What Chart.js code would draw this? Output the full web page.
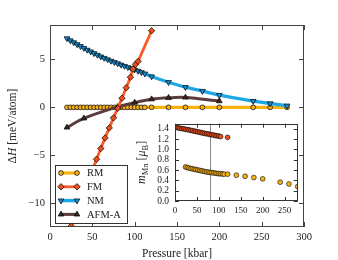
<!DOCTYPE html>
<html><head><meta charset="utf-8">
<script src="https://cdn.jsdelivr.net/npm/chart.js@4.4.1/dist/chart.umd.min.js"></script>
<style>
html,body{margin:0;padding:0;background:#fff;}
#wrap{position:relative;width:338px;height:260px;overflow:hidden;}
#main{position:absolute;left:0;top:0;width:338px;height:260px;}
#inset{position:absolute;left:120px;top:112px;width:185px;height:110px;}
</style></head><body>
<div id="wrap"><canvas id="main" width="338" height="260"></canvas><canvas id="inset" width="185" height="110"></canvas></div>
<script>
// ---------- data ----------
const SERIES_NAMES = ['RM', 'FM', 'NM', 'AFM-A'];

const RM_P  = [20,24,28,32,36,40,44,48,52,56,60,64,68,72,76,80,84,88,92,96,100,104,108,112,120,140,160,180,200,240,260,280];
const RM_DH = [0,0,0,0,0,0,0,0,0,0,0,0,0,0,0,0,0,0,0,0,0,0,0,0,0,0,0,0,0,0,0,0];

const FM_P  = [25,30,35,40,45,50,55,60,65,70,75,80,85,90,95,98,101,104,120];
const FM_DH = [-12.4,-11.3,-10.1,-8.95,-7.75,-6.6,-5.42,-4.3,-3.2,-2.15,-1.1,-0.1,0.95,2.05,3.15,4.0,4.5,4.8,8.0];

const NM_P  = [20,24,28,32,36,40,44,48,52,56,60,64,68,72,76,80,84,88,92,96,100,104,108,112,120,140,160,180,200,240,260,280];
const NM_DH = [7.2,6.98,6.78,6.58,6.38,6.19,6.0,5.82,5.64,5.47,5.3,5.15,5.0,4.85,4.71,4.58,4.44,4.31,4.18,4.06,3.94,3.8,3.66,3.52,3.22,2.62,2.1,1.7,1.28,0.65,0.4,0.17];

const AFM_P  = [20,40,80,100,120,140,160,200];
const AFM_DH = [-2.1,-1.15,0.05,0.5,0.85,1.0,1.03,0.65];

// inset: Mn magnetic moment
const MFM_P = [0,4,8,12,16,20,24,28,32,36,40,44,48,52,56,60,64,68,72,76,80,84,88,92,96,100,104,120];
const MFM   = [1.43,1.425,1.42,1.41,1.405,1.4,1.39,1.385,1.38,1.37,1.365,1.355,1.35,1.34,1.335,1.325,1.32,1.31,1.305,1.3,1.29,1.285,1.28,1.27,1.265,1.26,1.25,1.235];
const MRM_P = [24,28,32,36,40,44,48,52,56,60,64,68,72,76,80,84,88,92,96,100,104,108,112,120,140,160,180,200,240,260,280];
const MRM   = [0.66,0.65,0.64,0.63,0.625,0.615,0.61,0.6,0.595,0.585,0.58,0.57,0.565,0.56,0.555,0.55,0.545,0.54,0.535,0.53,0.53,0.525,0.52,0.52,0.5,0.48,0.455,0.43,0.365,0.33,0.28];
const TRANSITION_P = 80;

const X_TICKS = [0,50,100,150,200,250,300];
const Y_TICKS = [-10,-5,0,5];
const IX_TICKS = [0,50,100,150,200,250];
const IY_TICKS = [0,0.2,0.4,0.6,0.8,1.0,1.2,1.4];

// ---------- styles ----------
const FONT = "'Liberation Serif','Times New Roman',serif";
const STY = {
  'RM':    {line:'#f8b20c', fill:'#f7b219', ps:'circle',  r:2.4, lw:3.2, rot:0,   order:3},
  'FM':    {line:'#fa5a26', fill:'#ec4f1c', ps:'rectRot', r:3.2, lw:2.8, rot:0,   order:0},
  'NM':    {line:'#1ca8e8', fill:'#1a8ccc', ps:'triangle',r:3.3, lw:3.4, rot:180, order:2},
  'AFM-A': {line:'#5c3c3c', fill:'#3a2626', ps:'triangle',r:3.3, lw:3.0, rot:0,   order:1}
};
const TENSION = {'RM':0,'FM':0,'NM':0.3,'AFM-A':0.35};

function pts(xs, ys){ return xs.map((x,i)=>({x:x, y:ys[i]})); }
function ds(name, xs, ys){
  const s = STY[name];
  return {label:name, data:pts(xs,ys), showLine:true, borderColor:s.line, borderWidth:s.lw,
    backgroundColor:s.fill, pointStyle:s.ps, pointRadius:s.r, pointRotation:s.rot,
    pointBackgroundColor:s.fill, pointBorderColor:'#000', pointBorderWidth:0.7,
    tension:TENSION[name], order:s.order, fill:false};
}
function fmtMinus(v){ return v < 0 ? '\u2212' + Math.abs(v) : String(v); }

function marker(ctx, style, rot, x, y, r, fill){
  ctx.beginPath();
  if (style === 'circle') { ctx.arc(x, y, r, 0, Math.PI*2); }
  else if (style === 'rectRot') { ctx.moveTo(x, y-r); ctx.lineTo(x+r, y); ctx.lineTo(x, y+r); ctx.lineTo(x-r, y); ctx.closePath(); }
  else {
    let rad = rot*Math.PI/180;
    ctx.moveTo(x + Math.sin(rad)*r, y - Math.cos(rad)*r);
    rad += 2*Math.PI/3; ctx.lineTo(x + Math.sin(rad)*r, y - Math.cos(rad)*r);
    rad += 2*Math.PI/3; ctx.lineTo(x + Math.sin(rad)*r, y - Math.cos(rad)*r);
    ctx.closePath();
  }
  ctx.fillStyle = fill; ctx.fill();
  ctx.lineWidth = 0.7; ctx.strokeStyle = '#000'; ctx.stroke();
}

function drawRich(ctx, parts, cx, cy, rotate, base){
  ctx.save(); ctx.translate(cx, cy); if (rotate) ctx.rotate(-Math.PI/2);
  ctx.textBaseline = 'alphabetic'; ctx.textAlign = 'left'; ctx.fillStyle = '#222';
  let total = 0;
  parts.forEach(p => { ctx.font = p.font; p.w = ctx.measureText(p.t).width; total += p.w; });
  let xx = -total/2;
  parts.forEach(p => { ctx.font = p.font; ctx.fillText(p.t, xx, base + (p.dy||0)); xx += p.w; });
  ctx.restore();
}

function frameAndTicks(chart, xt, yt, TL, color){
  const {ctx, chartArea:a, scales:{x, y}} = chart;
  ctx.save();
  ctx.strokeStyle = color; ctx.lineWidth = 1;
  ctx.beginPath();
  xt.forEach(v => { const px = Math.round(x.getPixelForValue(v)) + 0.5;
    ctx.moveTo(px, a.bottom); ctx.lineTo(px, a.bottom - TL);
    ctx.moveTo(px, a.top); ctx.lineTo(px, a.top + TL); });
  yt.forEach(v => { const py = Math.round(y.getPixelForValue(v)) + 0.5;
    ctx.moveTo(a.left, py); ctx.lineTo(a.left + TL, py);
    ctx.moveTo(a.right, py); ctx.lineTo(a.right - TL, py); });
  ctx.stroke();
  ctx.strokeRect(Math.round(a.left)+0.5, Math.round(a.top)+0.5, Math.round(a.right-a.left)-1, Math.round(a.bottom-a.top)-1);
  ctx.restore();
}

const mainDecor = {
  id:'mainDecor',
  afterDraw(chart){
    const {ctx, chartArea:a} = chart;
    frameAndTicks(chart, X_TICKS, Y_TICKS, 5, '#444');
    // axis titles
    ctx.save();
    ctx.fillStyle = '#222'; ctx.font = '11.5px ' + FONT; ctx.textAlign = 'center'; ctx.textBaseline = 'middle';
    ctx.fillText('Pressure [kbar]', (a.left + a.right)/2, 254);
    ctx.restore();
    drawRich(ctx, [
      {t:'\u0394', font:'11.5px ' + FONT},
      {t:'H', font:'italic 11.5px ' + FONT},
      {t:' [meV/atom]', font:'11.5px ' + FONT}
    ], 12, (a.top + a.bottom)/2, true, 4);
    // legend
    const L = a.left + 5, T = a.top + 140, W = 72, H = 58;
    ctx.save();
    ctx.fillStyle = '#fff'; ctx.fillRect(L, T, W, H);
    ctx.strokeStyle = '#333'; ctx.lineWidth = 1; ctx.strokeRect(L+0.5, T+0.5, W, H);
    SERIES_NAMES.forEach((n, i) => {
      const s = STY[n]; const yy = T + 8 + i*13.8;
      ctx.beginPath(); ctx.moveTo(L+6, yy); ctx.lineTo(L+22, yy);
      ctx.strokeStyle = s.line; ctx.lineWidth = s.lw; ctx.stroke();
      marker(ctx, s.ps, s.rot, L+6, yy, s.r, s.fill);
      marker(ctx, s.ps, s.rot, L+22, yy, s.r, s.fill);
      ctx.fillStyle = '#222'; ctx.font = '10.5px ' + FONT; ctx.textAlign = 'left'; ctx.textBaseline = 'middle';
      ctx.fillText(n, L + 32, yy + 0.5);
    });
    ctx.restore();
  }
};

new Chart(document.getElementById('main'), {
  type:'scatter',
  data:{datasets:[ ds('RM', RM_P, RM_DH), ds('FM', FM_P, FM_DH), ds('NM', NM_P, NM_DH), ds('AFM-A', AFM_P, AFM_DH) ]},
  options:{
    responsive:false, animation:false, devicePixelRatio:1,
    layout:{padding:{left:0, right:34, top:25, bottom:0}},
    plugins:{legend:{display:false}, tooltip:{enabled:false}},
    scales:{
      x:{type:'linear', position:'bottom', min:0, max:300,
        afterBuildTicks:s => { s.ticks = X_TICKS.map(v => ({value:v})); },
        afterFit:s => { s.height = 33; },
        grid:{display:false, drawTicks:false}, border:{display:false},
        ticks:{font:{family:FONT, size:10.5}, color:'#222', padding:4, maxRotation:0, autoSkip:false}},
      y:{type:'linear', position:'left', min:-12.5, max:8.6,
        afterBuildTicks:s => { s.ticks = Y_TICKS.map(v => ({value:v})); },
        afterFit:s => { s.width = 50; },
        grid:{display:false, drawTicks:false}, border:{display:false},
        ticks:{font:{family:FONT, size:10.5}, color:'#222', padding:5, autoSkip:false, callback:v => fmtMinus(v)}}
    }
  },
  plugins:[mainDecor]
});

// ---------- inset ----------
const insetDecor = {
  id:'insetDecor',
  beforeDatasetsDraw(chart){
    const {ctx, chartArea:a, scales:{x}} = chart;
    const px = Math.round(x.getPixelForValue(TRANSITION_P)) + 0.5;
    ctx.save(); ctx.strokeStyle = '#8a8a8a'; ctx.lineWidth = 1;
    ctx.beginPath(); ctx.moveTo(px, a.top); ctx.lineTo(px, a.bottom); ctx.stroke(); ctx.restore();
  },
  afterDraw(chart){
    const {ctx, chartArea:a} = chart;
    frameAndTicks(chart, IX_TICKS, IY_TICKS, 4, '#333');
    drawRich(ctx, [
      {t:'m', font:'italic 12px ' + FONT},
      {t:'Mn', font:'8.5px ' + FONT, dy:2.8},
      {t:' [', font:'12px ' + FONT},
      {t:'\u03bc', font:'italic 12px ' + FONT},
      {t:'B', font:'8.5px ' + FONT, dy:2.8},
      {t:']', font:'12px ' + FONT}
    ], 21, (a.top + a.bottom)/2, true, 4);
  }
};

function ids(name, xs, ys){
  const s = STY[name];
  return {label:name, data:pts(xs,ys), showLine:false, pointStyle:'circle', pointRadius:2.4,
    pointBackgroundColor:s.fill, pointBorderColor:'#000', pointBorderWidth:0.6};
}

new Chart(document.getElementById('inset'), {
  type:'scatter',
  data:{datasets:[ ids('FM', MFM_P, MFM), ids('RM', MRM_P, MRM) ]},
  options:{
    responsive:false, animation:false, devicePixelRatio:1,
    layout:{padding:{left:0, right:7.3, top:10.5, bottom:0}},
    plugins:{legend:{display:false}, tooltip:{enabled:false}},
    scales:{
      x:{type:'linear', position:'bottom', min:0, max:280,
        afterBuildTicks:s => { s.ticks = IX_TICKS.map(v => ({value:v})); },
        afterFit:s => { s.height = 21; },
        grid:{display:false, drawTicks:false}, border:{display:false},
        ticks:{font:{family:FONT, size:9}, color:'#222', padding:4, maxRotation:0, autoSkip:false}},
      y:{type:'linear', position:'left', min:0, max:1.5,
        afterBuildTicks:s => { s.ticks = IY_TICKS.map(v => ({value:v})); },
        afterFit:s => { s.width = 55; },
        grid:{display:false, drawTicks:false}, border:{display:false},
        ticks:{font:{family:FONT, size:9.5}, color:'#222', padding:6, autoSkip:false, callback:v => v.toFixed(1)}}
    }
  },
  plugins:[insetDecor]
});
</script>
</body></html>
